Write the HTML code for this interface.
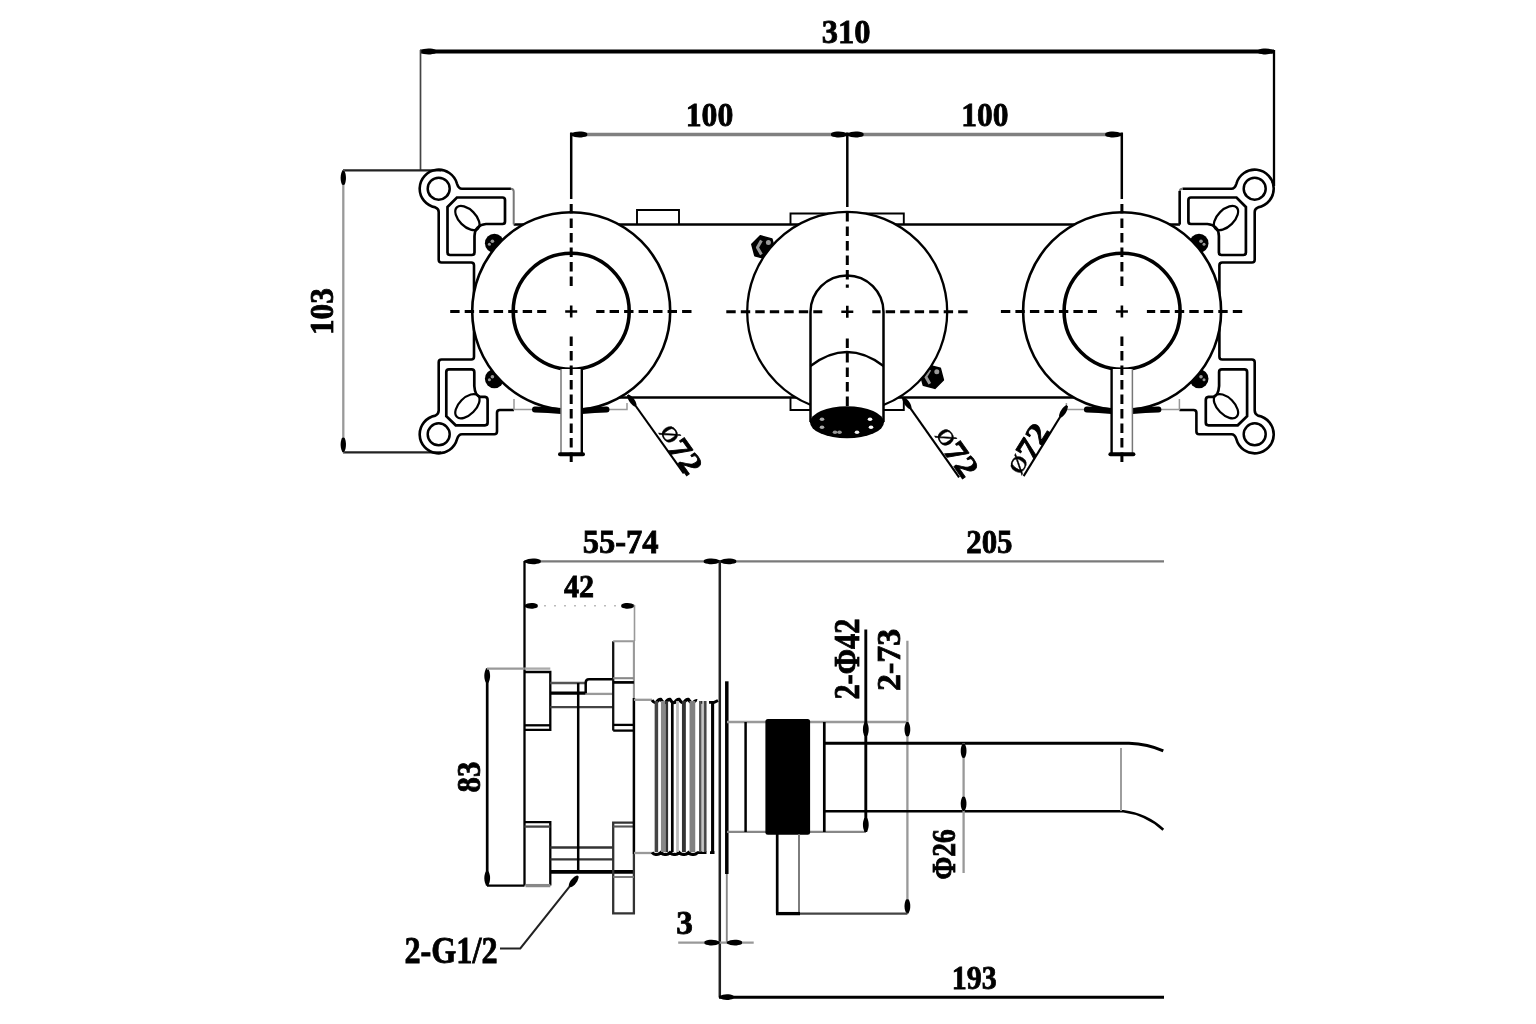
<!DOCTYPE html>
<html><head><meta charset="utf-8"><title>Drawing</title>
<style>html,body{margin:0;padding:0;background:#fff;}svg{display:block;filter:grayscale(100%);}
text{font-family:"Liberation Serif",serif;font-weight:bold;fill:#000;stroke:#000;stroke-width:0.8px;}</style></head>
<body><svg width="1536" height="1024" viewBox="0 0 1536 1024">
<rect width="1536" height="1024" fill="#fff"/>
<line x1="420" y1="51.5" x2="1274" y2="51.5" stroke="#000" stroke-width="3.9" />
<path transform="translate(420,51.5) rotate(0)" d="M0,-0.9 C4.0,-3.3 11.2,-3.6 16,-1.4 Q16.8,0 16,1.4 C11.2,3.6 4.0,3.3 0,0.9 Z" fill="#000"/>
<path transform="translate(1274,51.5) rotate(180)" d="M0,-0.9 C4.0,-3.3 11.2,-3.6 16,-1.4 Q16.8,0 16,1.4 C11.2,3.6 4.0,3.3 0,0.9 Z" fill="#000"/>
<line x1="420.5" y1="50" x2="420.5" y2="170" stroke="#444" stroke-width="1.7" />
<line x1="1274" y1="50" x2="1274" y2="186" stroke="#000" stroke-width="2.3" />
<text transform="translate(846.20,31.50) rotate(0) scale(0.9455,1)" x="-25.81" y="11.01" font-size="34.41">310</text>
<line x1="343" y1="170.3" x2="441" y2="170.3" stroke="#222" stroke-width="2.3" />
<line x1="343" y1="452.3" x2="441" y2="452.3" stroke="#222" stroke-width="2.3" />
<line x1="343.3" y1="170" x2="343.3" y2="452.5" stroke="#999" stroke-width="2.3" />
<path transform="translate(343.3,170.5) rotate(90)" d="M0,-0.9 C3.5,-3.0 9.8,-3.3 14,-1.4 Q14.8,0 14,1.4 C9.8,3.3 3.5,3.0 0,0.9 Z" fill="#000"/>
<path transform="translate(343.3,452) rotate(-90)" d="M0,-0.9 C3.5,-3.0 9.8,-3.3 14,-1.4 Q14.8,0 14,1.4 C9.8,3.3 3.5,3.0 0,0.9 Z" fill="#000"/>
<text transform="translate(322.45,310.80) rotate(-90) scale(0.9191,1)" x="-26.33" y="10.87" font-size="33.97">103</text>
<line x1="571" y1="134.5" x2="1121.5" y2="134.5" stroke="#808080" stroke-width="3.3" />
<path transform="translate(571,134.5) rotate(0)" d="M0,-0.9 C4.0,-3.3 11.2,-3.6 16,-1.4 Q16.8,0 16,1.4 C11.2,3.6 4.0,3.3 0,0.9 Z" fill="#000"/>
<path transform="translate(847.3,134.5) rotate(180)" d="M0,-0.9 C4.0,-3.3 11.2,-3.6 16,-1.4 Q16.8,0 16,1.4 C11.2,3.6 4.0,3.3 0,0.9 Z" fill="#000"/>
<path transform="translate(847.3,134.5) rotate(0)" d="M0,-0.9 C4.0,-3.3 11.2,-3.6 16,-1.4 Q16.8,0 16,1.4 C11.2,3.6 4.0,3.3 0,0.9 Z" fill="#000"/>
<path transform="translate(1121.5,134.5) rotate(180)" d="M0,-0.9 C4.0,-3.3 11.2,-3.6 16,-1.4 Q16.8,0 16,1.4 C11.2,3.6 4.0,3.3 0,0.9 Z" fill="#000"/>
<text transform="translate(710.10,115.35) rotate(0) scale(0.9425,1)" x="-25.93" y="10.78" font-size="33.68">100</text>
<text transform="translate(985.45,115.45) rotate(0) scale(0.9279,1)" x="-26.16" y="10.87" font-size="33.97">100</text>
<line x1="513.7" y1="224.5" x2="1180" y2="224.5" stroke="#000" stroke-width="2.3" />
<line x1="600" y1="397.5" x2="1095" y2="397.5" stroke="#000" stroke-width="2.3" />
<path d="M637,224.5 V210 H679 V224.5" stroke="#000" stroke-width="1.9" fill="none" />
<path d="M790.5,224.5 V213.5 H903.8 V224.5" stroke="#000" stroke-width="1.9" fill="none" />
<path d="M790.5,397.5 V410 H903.8 V397.5" stroke="#000" stroke-width="1.9" fill="none" />
<path d="M510.9,188.7 H462 Q458.5,188.7 457.05,183.8 A19,19 0 1 0 435.4,207.4 Q438.7,208.5 438.7,212 V259.7 Q438.7,262.5 441.5,262.5 H471.2 Q474,262.5 474,265.3 V356.7 Q474,359.5 471.2,359.5 H441.5 Q438.7,359.5 438.7,362.3 V410.6 Q438.7,414 435.4,415.6 A19,19 0 1 0 457.05,439.2 Q458.5,434.3 462,434.3 H494.2 Q497,434.3 497,431.5 V412.8 Q497,410 499.8,410 H514" stroke="#000" stroke-width="2.6" fill="none"/>
<path d="M513.7,224.5 V191.5 Q513.7,188.7 510.9,188.7" stroke="#777" stroke-width="2" fill="none"/>
<path d="M447.5,207 L456.9,197.5 H502.5 Q505,197.5 505,200 V221.5 Q505,224 502.5,224 H486 Q475,225 474.5,236 V252.5 Q474.5,255 472,255 H450 Q447.5,255 447.5,252.5 Z" stroke="#000" stroke-width="2.7" fill="none"/>
<path d="M446.3,372 Q446.3,369.3 449,369.3 H471.5 Q474.3,369.3 474.3,372 V386 Q475,395.5 480,396.8 H485 Q487.6,397 487.6,400 V422.8 Q487.6,425.3 485,425.3 H455.7 L446.3,416.2 Z" stroke="#000" stroke-width="2.7" fill="none"/>
<circle cx="438.7" cy="188.7" r="11" stroke="#000" stroke-width="2.5" fill="none"/>
<circle cx="438.7" cy="434.3" r="11" stroke="#000" stroke-width="2.5" fill="none"/>
<ellipse cx="0" cy="0" rx="15" ry="8.3" transform="translate(467.4,218) rotate(45)" stroke="#000" stroke-width="2.2" fill="none"/>
<ellipse cx="0" cy="0" rx="15" ry="8.3" transform="translate(467.4,406.2) rotate(-45)" stroke="#000" stroke-width="2.2" fill="none"/>
<path d="M514,399 V409.6 H627 V403" stroke="#999" stroke-width="1.5" fill="none"/>
<circle cx="494.4" cy="243.2" r="9.5" fill="#000"/>
<circle cx="492.4" cy="241.2" r="1.8" fill="#999"/><circle cx="489.4" cy="244.2" r="1.5" fill="#999"/>
<circle cx="494.4" cy="378.7" r="9.5" fill="#000"/>
<circle cx="492.4" cy="376.7" r="1.8" fill="#999"/><circle cx="489.4" cy="379.7" r="1.5" fill="#999"/>
<g transform="matrix(-1,0,0,1,1693.4,0)"><path d="M510.9,188.7 H462 Q458.5,188.7 457.05,183.8 A19,19 0 1 0 435.4,207.4 Q438.7,208.5 438.7,212 V259.7 Q438.7,262.5 441.5,262.5 H471.2 Q474,262.5 474,265.3 V356.7 Q474,359.5 471.2,359.5 H441.5 Q438.7,359.5 438.7,362.3 V410.6 Q438.7,414 435.4,415.6 A19,19 0 1 0 457.05,439.2 Q458.5,434.3 462,434.3 H494.2 Q497,434.3 497,431.5 V412.8 Q497,410 499.8,410 H514" stroke="#000" stroke-width="2.6" fill="none"/>
<path d="M513.7,224.5 V191.5 Q513.7,188.7 510.9,188.7" stroke="#777" stroke-width="2" fill="none"/>
<path d="M447.5,207 L456.9,197.5 H502.5 Q505,197.5 505,200 V221.5 Q505,224 502.5,224 H486 Q475,225 474.5,236 V252.5 Q474.5,255 472,255 H450 Q447.5,255 447.5,252.5 Z" stroke="#000" stroke-width="2.7" fill="none"/>
<path d="M446.3,372 Q446.3,369.3 449,369.3 H471.5 Q474.3,369.3 474.3,372 V386 Q475,395.5 480,396.8 H485 Q487.6,397 487.6,400 V422.8 Q487.6,425.3 485,425.3 H455.7 L446.3,416.2 Z" stroke="#000" stroke-width="2.7" fill="none"/>
<circle cx="438.7" cy="188.7" r="11" stroke="#000" stroke-width="2.5" fill="none"/>
<circle cx="438.7" cy="434.3" r="11" stroke="#000" stroke-width="2.5" fill="none"/>
<ellipse cx="0" cy="0" rx="15" ry="8.3" transform="translate(467.4,218) rotate(45)" stroke="#000" stroke-width="2.2" fill="none"/>
<ellipse cx="0" cy="0" rx="15" ry="8.3" transform="translate(467.4,406.2) rotate(-45)" stroke="#000" stroke-width="2.2" fill="none"/>
<path d="M514,399 V409.6 H627 V403" stroke="#999" stroke-width="1.5" fill="none"/>
<circle cx="494.4" cy="243.2" r="9.5" fill="#000"/>
<circle cx="492.4" cy="241.2" r="1.8" fill="#999"/><circle cx="489.4" cy="244.2" r="1.5" fill="#999"/>
<circle cx="494.4" cy="378.7" r="9.5" fill="#000"/>
<circle cx="492.4" cy="376.7" r="1.8" fill="#999"/><circle cx="489.4" cy="379.7" r="1.5" fill="#999"/></g>
<line x1="1179.7" y1="191" x2="1179.7" y2="224.5" stroke="#000" stroke-width="2.5" />
<polygon points="775.0,250.5 766.5,259.0 754.9,255.9 751.8,244.3 760.3,235.8 771.9,238.9" fill="#000" stroke="#000" stroke-width="1.5" stroke-linejoin="round"/>
<path d="M761.4,240.4 L757.4,247.4 L761.4,254.4" stroke="#999" stroke-width="3" fill="none" stroke-linejoin="round"/><circle cx="768.4" cy="242.4" r="2.5" fill="#999"/>
<polygon points="943.4,379.9 934.9,388.4 923.3,385.3 920.2,373.7 928.7,365.2 940.3,368.3" fill="#000" stroke="#000" stroke-width="1.5" stroke-linejoin="round"/>
<path d="M929.8,369.8 L925.8,376.8 L929.8,383.8" stroke="#999" stroke-width="3" fill="none" stroke-linejoin="round"/><circle cx="936.8" cy="371.8" r="2.5" fill="#999"/>
<circle cx="571.2" cy="311.2" r="99" stroke="#000" stroke-width="2.6" fill="#fff"/>
<circle cx="571.2" cy="311.2" r="58" stroke="#000" stroke-width="3.6" fill="none"/>
<circle cx="1122.1" cy="311.2" r="99" stroke="#000" stroke-width="2.6" fill="#fff"/>
<circle cx="1122.1" cy="311.2" r="58" stroke="#000" stroke-width="3.6" fill="none"/>
<circle cx="847.2" cy="311.8" r="100" stroke="#000" stroke-width="2.3" fill="#fff"/>
<path d="M535,409.6 Q548,410 561.2,411" stroke="#000" stroke-width="6" stroke-linecap="round" fill="none"/><path d="M581.8,411 Q595,410 606.5,409.6" stroke="#000" stroke-width="6" stroke-linecap="round" fill="none"/>
<g transform="matrix(-1,0,0,1,1693.4,0)"><path d="M535,409.6 Q548,410 561.2,411" stroke="#000" stroke-width="6" stroke-linecap="round" fill="none"/><path d="M581.8,411 Q595,410 606.5,409.6" stroke="#000" stroke-width="6" stroke-linecap="round" fill="none"/></g>
<path d="M810.5,422 V312 A36.5,36.5 0 0 1 883.5,312 V422" stroke="#000" stroke-width="2.5" fill="#fff" />
<path d="M810.5,366 Q847,338 883.5,366" stroke="#000" stroke-width="2.3" fill="none" />
<ellipse cx="847" cy="422.3" rx="37" ry="16" fill="#000"/>
<ellipse cx="822" cy="419.3" rx="2.3" ry="1.8" fill="#aaa"/>
<ellipse cx="822" cy="427.3" rx="2.3" ry="1.8" fill="#aaa"/>
<ellipse cx="835" cy="432.3" rx="2.3" ry="1.8" fill="#999"/>
<ellipse cx="839.5" cy="432.3" rx="2.3" ry="1.8" fill="#999"/>
<ellipse cx="857" cy="432.3" rx="2.3" ry="1.8" fill="#eee"/>
<ellipse cx="870" cy="419.3" rx="2.3" ry="1.8" fill="#fff"/>
<ellipse cx="871" cy="427.3" rx="2.3" ry="1.8" fill="#fff"/>
<rect x="561" y="369" width="21" height="85" fill="#fff"/><line x1="561" y1="369" x2="561" y2="454" stroke="#777" stroke-width="1.5"/><line x1="581.8" y1="369" x2="581.8" y2="454" stroke="#000" stroke-width="2.4"/><line x1="560" y1="454.3" x2="583" y2="454.3" stroke="#000" stroke-width="4" stroke-linecap="round"/>
<g transform="matrix(-1,0,0,1,1693.4,0)"><rect x="561" y="369" width="21" height="85" fill="#fff"/><line x1="561" y1="369" x2="561" y2="454" stroke="#777" stroke-width="1.5"/><line x1="581.8" y1="369" x2="581.8" y2="454" stroke="#000" stroke-width="2.4"/><line x1="560" y1="454.3" x2="583" y2="454.3" stroke="#000" stroke-width="4" stroke-linecap="round"/></g>
<line x1="571.2" y1="132.5" x2="571.2" y2="199" stroke="#000" stroke-width="2.5" />
<line x1="847.3" y1="132.5" x2="847.3" y2="207" stroke="#000" stroke-width="2.5" />
<line x1="1121.8" y1="132.5" x2="1121.8" y2="199" stroke="#000" stroke-width="2.5" />
<path d="M450.20000000000005,311.5 H546.2" stroke="#000" stroke-width="3" stroke-dasharray="9.4 5.1" fill="none"/><path d="M691.5,311.5 H596.2" stroke="#000" stroke-width="3" stroke-dasharray="9.4 5.1" fill="none"/><path d="M565.2,311.5 H577.2 M571.2,305.5 V317.5" stroke="#000" stroke-width="2.6" fill="none"/><path d="M571.2,204 V287.5" stroke="#000" stroke-width="3" stroke-dasharray="9.4 5.1" fill="none"/><path d="M571.2,462 V336.5" stroke="#000" stroke-width="3" stroke-dasharray="9.4 5.1" fill="none"/>
<path d="M726.3,311.8 H822.3" stroke="#000" stroke-width="3" stroke-dasharray="9.4 5.1" fill="none"/><path d="M967.5999999999999,311.8 H872.3" stroke="#000" stroke-width="3" stroke-dasharray="9.4 5.1" fill="none"/><path d="M841.3,311.8 H853.3 M847.3,305.8 V317.8" stroke="#000" stroke-width="2.6" fill="none"/><path d="M847.3,212 V287.8" stroke="#000" stroke-width="3" stroke-dasharray="9.4 5.1" fill="none"/><path d="M847.3,406 V336.8" stroke="#000" stroke-width="3" stroke-dasharray="9.4 5.1" fill="none"/>
<path d="M1000.9000000000001,311.5 H1096.9" stroke="#000" stroke-width="3" stroke-dasharray="9.4 5.1" fill="none"/><path d="M1242.2,311.5 H1146.9" stroke="#000" stroke-width="3" stroke-dasharray="9.4 5.1" fill="none"/><path d="M1115.9,311.5 H1127.9 M1121.9,305.5 V317.5" stroke="#000" stroke-width="2.6" fill="none"/><path d="M1121.9,204 V287.5" stroke="#000" stroke-width="3" stroke-dasharray="9.4 5.1" fill="none"/><path d="M1121.9,462 V336.5" stroke="#000" stroke-width="3" stroke-dasharray="9.4 5.1" fill="none"/>
<line x1="627.9" y1="395" x2="683.8" y2="473.4" stroke="#000" stroke-width="2.1" />
<line x1="902.9" y1="397.6" x2="959.1" y2="477.3" stroke="#000" stroke-width="2.1" />
<line x1="1067" y1="405.8" x2="1023.6" y2="476.1" stroke="#000" stroke-width="2.1" />
<path transform="translate(627.9,395) rotate(54.5)" d="M0,-0.9 C3.2,-3.0 9.1,-3.3 13,-1.4 Q13.8,0 13,1.4 C9.1,3.3 3.2,3.0 0,0.9 Z" fill="#000"/>
<path transform="translate(902.9,397.6) rotate(54.8)" d="M0,-0.9 C3.2,-3.0 9.1,-3.3 13,-1.4 Q13.8,0 13,1.4 C9.1,3.3 3.2,3.0 0,0.9 Z" fill="#000"/>
<path transform="translate(1067,405.8) rotate(121.7)" d="M0,-0.9 C3.2,-3.0 9.1,-3.3 13,-1.4 Q13.8,0 13,1.4 C9.1,3.3 3.2,3.0 0,0.9 Z" fill="#000"/>
<line x1="524" y1="561.3" x2="1164" y2="561.3" stroke="#7a7a7a" stroke-width="2.3" />
<path transform="translate(524.5,561.3) rotate(0)" d="M0,-0.9 C4.0,-3.3 11.2,-3.6 16,-1.4 Q16.8,0 16,1.4 C11.2,3.6 4.0,3.3 0,0.9 Z" fill="#000"/>
<path transform="translate(720,561.3) rotate(180)" d="M0,-0.9 C4.0,-3.3 11.2,-3.6 16,-1.4 Q16.8,0 16,1.4 C11.2,3.6 4.0,3.3 0,0.9 Z" fill="#000"/>
<path transform="translate(720,561.3) rotate(0)" d="M0,-0.9 C4.0,-3.3 11.2,-3.6 16,-1.4 Q16.8,0 16,1.4 C11.2,3.6 4.0,3.3 0,0.9 Z" fill="#000"/>
<text transform="translate(620.95,542.40) rotate(0) scale(0.9767,1)" x="-39.17" y="10.67" font-size="33.33">55-74</text>
<text transform="translate(989.35,542.65) rotate(0) scale(0.9458,1)" x="-24.51" y="10.30" font-size="32.69">205</text>
<line x1="524" y1="605.8" x2="634.5" y2="605.8" stroke="#bbb" stroke-width="1.5" stroke-dasharray="2 8"/>
<path transform="translate(524.5,605.8) rotate(0)" d="M0,-0.9 C3.2,-3.3 9.1,-3.6 13,-1.4 Q13.8,0 13,1.4 C9.1,3.6 3.2,3.3 0,0.9 Z" fill="#000"/>
<path transform="translate(634.5,605.8) rotate(180)" d="M0,-0.9 C3.2,-3.3 9.1,-3.6 13,-1.4 Q13.8,0 13,1.4 C9.1,3.6 3.2,3.3 0,0.9 Z" fill="#000"/>
<text transform="translate(578.50,586.80) rotate(0) scale(0.9462,1)" x="-15.43" y="10.18" font-size="31.82">42</text>
<line x1="634.5" y1="605" x2="634.5" y2="641" stroke="#999" stroke-width="1.6" />
<line x1="524.5" y1="561" x2="524.5" y2="885.6" stroke="#000" stroke-width="2.3" />
<line x1="719.8" y1="561" x2="719.8" y2="997.5" stroke="#222" stroke-width="2.5" />
<line x1="487.2" y1="668.4" x2="487.2" y2="885.6" stroke="#000" stroke-width="2.7" />
<path transform="translate(487.2,668.4) rotate(90)" d="M0,-0.9 C3.5,-3.3 9.8,-3.6 14,-1.4 Q14.8,0 14,1.4 C9.8,3.6 3.5,3.3 0,0.9 Z" fill="#000"/>
<path transform="translate(487.2,885.6) rotate(-90)" d="M0,-0.9 C3.5,-3.3 9.8,-3.6 14,-1.4 Q14.8,0 14,1.4 C9.8,3.6 3.5,3.3 0,0.9 Z" fill="#000"/>
<line x1="487" y1="668.6" x2="524.5" y2="668.6" stroke="#999" stroke-width="2.3" />
<line x1="487" y1="885.6" x2="524.5" y2="885.6" stroke="#000" stroke-width="2.3" />
<text transform="translate(468.85,777.10) rotate(-90) scale(0.9026,1)" x="-17.09" y="10.77" font-size="34.18">83</text>
<path d="M524.5,672 H550.3 V729.8 H524.5" stroke="#000" stroke-width="2.3" fill="none" />
<line x1="524.5" y1="668.6" x2="550.3" y2="668.6" stroke="#aaa" stroke-width="2.3" />
<line x1="524.5" y1="725.3" x2="550.3" y2="725.3" stroke="#000" stroke-width="2.3" />
<path d="M524.5,822.2 H550.3 V885.6" stroke="#000" stroke-width="2.3" fill="none" />
<line x1="524.5" y1="826.6" x2="550.3" y2="826.6" stroke="#444" stroke-width="2.3" />
<line x1="525.5" y1="885.6" x2="550.3" y2="885.6" stroke="#888" stroke-width="3.3" />
<line x1="550.3" y1="683" x2="585.7" y2="683" stroke="#555" stroke-width="2.3" />
<line x1="550.3" y1="693.2" x2="585.7" y2="693.2" stroke="#000" stroke-width="3.3" />
<line x1="585.7" y1="693.9" x2="613.2" y2="693.9" stroke="#999" stroke-width="2.3" />
<line x1="550.3" y1="707.1" x2="613.2" y2="707.1" stroke="#444" stroke-width="2.3" />
<line x1="550.3" y1="847.5" x2="613.2" y2="847.5" stroke="#333" stroke-width="2.3" />
<line x1="550.3" y1="859.4" x2="613.2" y2="859.4" stroke="#333" stroke-width="2.3" />
<line x1="550.3" y1="871.8" x2="634" y2="871.8" stroke="#000" stroke-width="3.7" />
<line x1="578.2" y1="683" x2="578.2" y2="871.8" stroke="#000" stroke-width="2.5" />
<path d="M585.7,693.2 V683 Q585.7,679.3 589,679.3 H613.2" stroke="#000" stroke-width="2.5" fill="none" />
<line x1="613.2" y1="730.6" x2="613.2" y2="641.3" stroke="#111" stroke-width="2.3" />
<path d="M613.2,641.3 H633.9 V698" stroke="#999" stroke-width="2.1" fill="none" />
<line x1="613.2" y1="678.2" x2="633.9" y2="678.2" stroke="#888" stroke-width="2.1" />
<line x1="613.2" y1="682.4" x2="633.9" y2="682.4" stroke="#000" stroke-width="2.7" />
<line x1="613.2" y1="724.9" x2="633.9" y2="724.9" stroke="#000" stroke-width="2.3" />
<line x1="613.2" y1="730.6" x2="633.9" y2="730.6" stroke="#000" stroke-width="2.3" />
<path d="M633.9,854 V913.3 H613.2 V822.6 H633.9" stroke="#333" stroke-width="2.3" fill="none" />
<line x1="613.2" y1="826.5" x2="633.9" y2="826.5" stroke="#555" stroke-width="2.1" />
<line x1="613.2" y1="877" x2="633.9" y2="877" stroke="#777" stroke-width="1.9" />
<line x1="633.9" y1="698" x2="633.9" y2="854" stroke="#000" stroke-width="2.5" />
<line x1="634" y1="699.8" x2="652" y2="699.8" stroke="#999" stroke-width="2.3" />
<line x1="634" y1="853" x2="652" y2="853" stroke="#999" stroke-width="2.3" />
<path d="M652,700.2 Q654.1,703.2 656.2,702.6 Q658.5,699 660.8,699.4 Q663.1,703.2 665.4,702.6 Q667.7,699 670.0,699.4 Q672.3,703.2 674.6,702.6 Q676.9,699 679.2,699.4 Q681.5,703.2 683.8,702.6 Q686.1,699 688.4,699.4 Q690.7,703.2 693.0,702.6 Q695.5,700 697,700.6" stroke="#000" stroke-width="3.1" fill="none" />
<path d="M699.7,702.4 H705.4 M709,702.4 H714.3 L718,700.5" stroke="#000" stroke-width="2.9" fill="none" />
<path d="M652,852.4 Q653.9,854.8 656.2,854.4 Q658.5,854.8 660.8,852.6 Q663.1,854.8 665.4,854.4 Q667.7,854.8 670.0,852.6 Q672.3,854.8 674.6,854.4 Q676.9,854.8 679.2,852.6 Q681.5,854.8 683.8,854.4 Q686.1,854.8 688.4,852.6 Q690.7,854.8 693.0,854.4 Q695.3,854.8 697.6,852.6" stroke="#000" stroke-width="3.1" fill="none" />
<path d="M697,852.6 H706.5 M710,852.6 H714.5" stroke="#000" stroke-width="2.7" fill="none" />
<line x1="656.4" y1="701" x2="656.4" y2="852" stroke="#444" stroke-width="3.5" />
<line x1="663.2" y1="701" x2="663.2" y2="852" stroke="#888" stroke-width="4.5" />
<line x1="666.8" y1="701" x2="666.8" y2="852" stroke="#333" stroke-width="2.6" />
<line x1="672.3" y1="701" x2="672.3" y2="852" stroke="#000" stroke-width="2.7" />
<line x1="677.5" y1="701" x2="677.5" y2="852" stroke="#bbb" stroke-width="2.8" />
<line x1="683.9" y1="701" x2="683.9" y2="852" stroke="#333" stroke-width="3.9" />
<line x1="692.4" y1="701" x2="692.4" y2="852" stroke="#808080" stroke-width="5.7" />
<line x1="700.3" y1="701" x2="700.3" y2="852" stroke="#555" stroke-width="2.5" />
<line x1="703.3" y1="701" x2="703.3" y2="852" stroke="#bbb" stroke-width="2.3" />
<line x1="705.3" y1="701" x2="705.3" y2="852" stroke="#444" stroke-width="2.5" />
<line x1="712.6" y1="701" x2="712.6" y2="852" stroke="#000" stroke-width="3.1" />
<line x1="726.8" y1="681.3" x2="726.8" y2="874" stroke="#000" stroke-width="3.5" />
<line x1="726.8" y1="874" x2="726.8" y2="942" stroke="#888" stroke-width="1.9" />
<line x1="727" y1="722" x2="907" y2="722" stroke="#999" stroke-width="2.3" />
<line x1="727" y1="831.9" x2="866" y2="831.9" stroke="#888" stroke-width="2.3" />
<line x1="745.6" y1="722" x2="745.6" y2="832" stroke="#000" stroke-width="2.5" />
<rect x="765.4" y="719" width="44.7" height="115.8" rx="2.5" fill="#000"/>
<line x1="824.3" y1="722" x2="824.3" y2="832" stroke="#000" stroke-width="2.7" />
<line x1="865.8" y1="629.5" x2="865.8" y2="832" stroke="#000" stroke-width="2.9" />
<path transform="translate(865.8,722) rotate(90)" d="M0,-0.9 C3.5,-3.3 9.8,-3.6 14,-1.4 Q14.8,0 14,1.4 C9.8,3.6 3.5,3.3 0,0.9 Z" fill="#000"/>
<path transform="translate(865.8,832) rotate(-90)" d="M0,-0.9 C3.5,-3.3 9.8,-3.6 14,-1.4 Q14.8,0 14,1.4 C9.8,3.6 3.5,3.3 0,0.9 Z" fill="#000"/>
<line x1="907.4" y1="640.8" x2="907.4" y2="913.6" stroke="#999" stroke-width="2.3" />
<path transform="translate(907.4,722) rotate(90)" d="M0,-0.9 C3.5,-3.3 9.8,-3.6 14,-1.4 Q14.8,0 14,1.4 C9.8,3.6 3.5,3.3 0,0.9 Z" fill="#000"/>
<path transform="translate(907.4,913.6) rotate(-90)" d="M0,-0.9 C3.5,-3.3 9.8,-3.6 14,-1.4 Q14.8,0 14,1.4 C9.8,3.6 3.5,3.3 0,0.9 Z" fill="#000"/>
<text transform="translate(847.70,659.10) rotate(-90) scale(0.8742,1)" x="-46.35" y="11.15" font-size="34.85">2-Φ42</text>
<text transform="translate(888.70,659.80) rotate(-90) scale(0.9865,1)" x="-31.58" y="10.81" font-size="34.33">2-73</text>
<path d="M824.3,743.2 H1129 Q1148,744 1163.3,750.8" stroke="#000" stroke-width="2.9" fill="none" />
<path d="M824.3,811.3 H1123.4 Q1146,814 1163.3,829.7" stroke="#000" stroke-width="2.5" fill="none" />
<line x1="1121" y1="748" x2="1121" y2="811" stroke="#999" stroke-width="1.9" />
<line x1="963.6" y1="743" x2="963.6" y2="873" stroke="#999" stroke-width="2.3" />
<path transform="translate(963.6,743.5) rotate(90)" d="M0,-0.9 C3.5,-3.3 9.8,-3.6 14,-1.4 Q14.8,0 14,1.4 C9.8,3.6 3.5,3.3 0,0.9 Z" fill="#000"/>
<path transform="translate(963.6,811) rotate(-90)" d="M0,-0.9 C3.5,-3.3 9.8,-3.6 14,-1.4 Q14.8,0 14,1.4 C9.8,3.6 3.5,3.3 0,0.9 Z" fill="#000"/>
<text transform="translate(945.00,854.20) rotate(-90) scale(0.8375,1)" x="-30.21" y="10.34" font-size="32.84">Φ26</text>
<rect x="777" y="835" width="22" height="78.5" fill="#fff"/>
<line x1="777.2" y1="834" x2="777.2" y2="913.6" stroke="#000" stroke-width="2.7" />
<line x1="799" y1="834" x2="799" y2="913.6" stroke="#777" stroke-width="1.9" />
<line x1="776" y1="913.6" x2="800" y2="913.6" stroke="#000" stroke-width="3.3" />
<line x1="800" y1="913.6" x2="907.4" y2="913.6" stroke="#444" stroke-width="2.3" />
<line x1="678.2" y1="942.7" x2="753.7" y2="942.7" stroke="#999" stroke-width="2.3" />
<path transform="translate(719.7,942.7) rotate(180)" d="M0,-0.9 C3.8,-3.3 10.5,-3.6 15,-1.4 Q15.8,0 15,1.4 C10.5,3.6 3.8,3.3 0,0.9 Z" fill="#000"/>
<path transform="translate(726.8,942.7) rotate(0)" d="M0,-0.9 C3.8,-3.3 10.5,-3.6 15,-1.4 Q15.8,0 15,1.4 C10.5,3.6 3.8,3.3 0,0.9 Z" fill="#000"/>
<text transform="translate(684.75,923.95) rotate(0) scale(0.9992,1)" x="-8.49" y="10.48" font-size="33.28">3</text>
<line x1="719" y1="997.2" x2="1164" y2="997.2" stroke="#000" stroke-width="2.9" />
<path transform="translate(719.5,997.2) rotate(0)" d="M0,-0.9 C3.5,-3.3 9.8,-3.6 14,-1.4 Q14.8,0 14,1.4 C9.8,3.6 3.5,3.3 0,0.9 Z" fill="#000"/>
<text transform="translate(975.05,977.70) rotate(0) scale(0.8870,1)" x="-26.21" y="10.82" font-size="33.82">193</text>
<path d="M500,948.4 H520.3 L577.9,876.1" stroke="#222" stroke-width="2.0" fill="none" />
<path transform="translate(577.9,876.1) rotate(128.5)" d="M0,-0.9 C3.2,-3.3 9.1,-3.6 13,-1.4 Q13.8,0 13,1.4 C9.1,3.6 3.2,3.3 0,0.9 Z" fill="#000"/>
<text transform="translate(450.85,950.25) rotate(0) scale(0.8279,1)" x="-56.10" y="12.66" font-size="38.96">2-G1/2</text>
<text transform="translate(679.50,449.60) rotate(54.5) scale(1.1526,1)" x="-23.37" y="9.50" font-size="31.16"><tspan font-weight="normal" stroke-width="0.3" dy="-3.2">ø</tspan><tspan dy="3.2">72</tspan></text>
<text transform="translate(955.50,452.60) rotate(54.8) scale(1.1526,1)" x="-23.37" y="9.50" font-size="31.16"><tspan font-weight="normal" stroke-width="0.3" dy="-3.2">ø</tspan><tspan dy="3.2">72</tspan></text>
<text transform="translate(1028.70,449.50) rotate(-58.3) scale(1.1526,1)" x="-23.37" y="9.50" font-size="31.16"><tspan font-weight="normal" stroke-width="0.3" dy="-3.2">ø</tspan><tspan dy="3.2">72</tspan></text>
</svg></body></html>
